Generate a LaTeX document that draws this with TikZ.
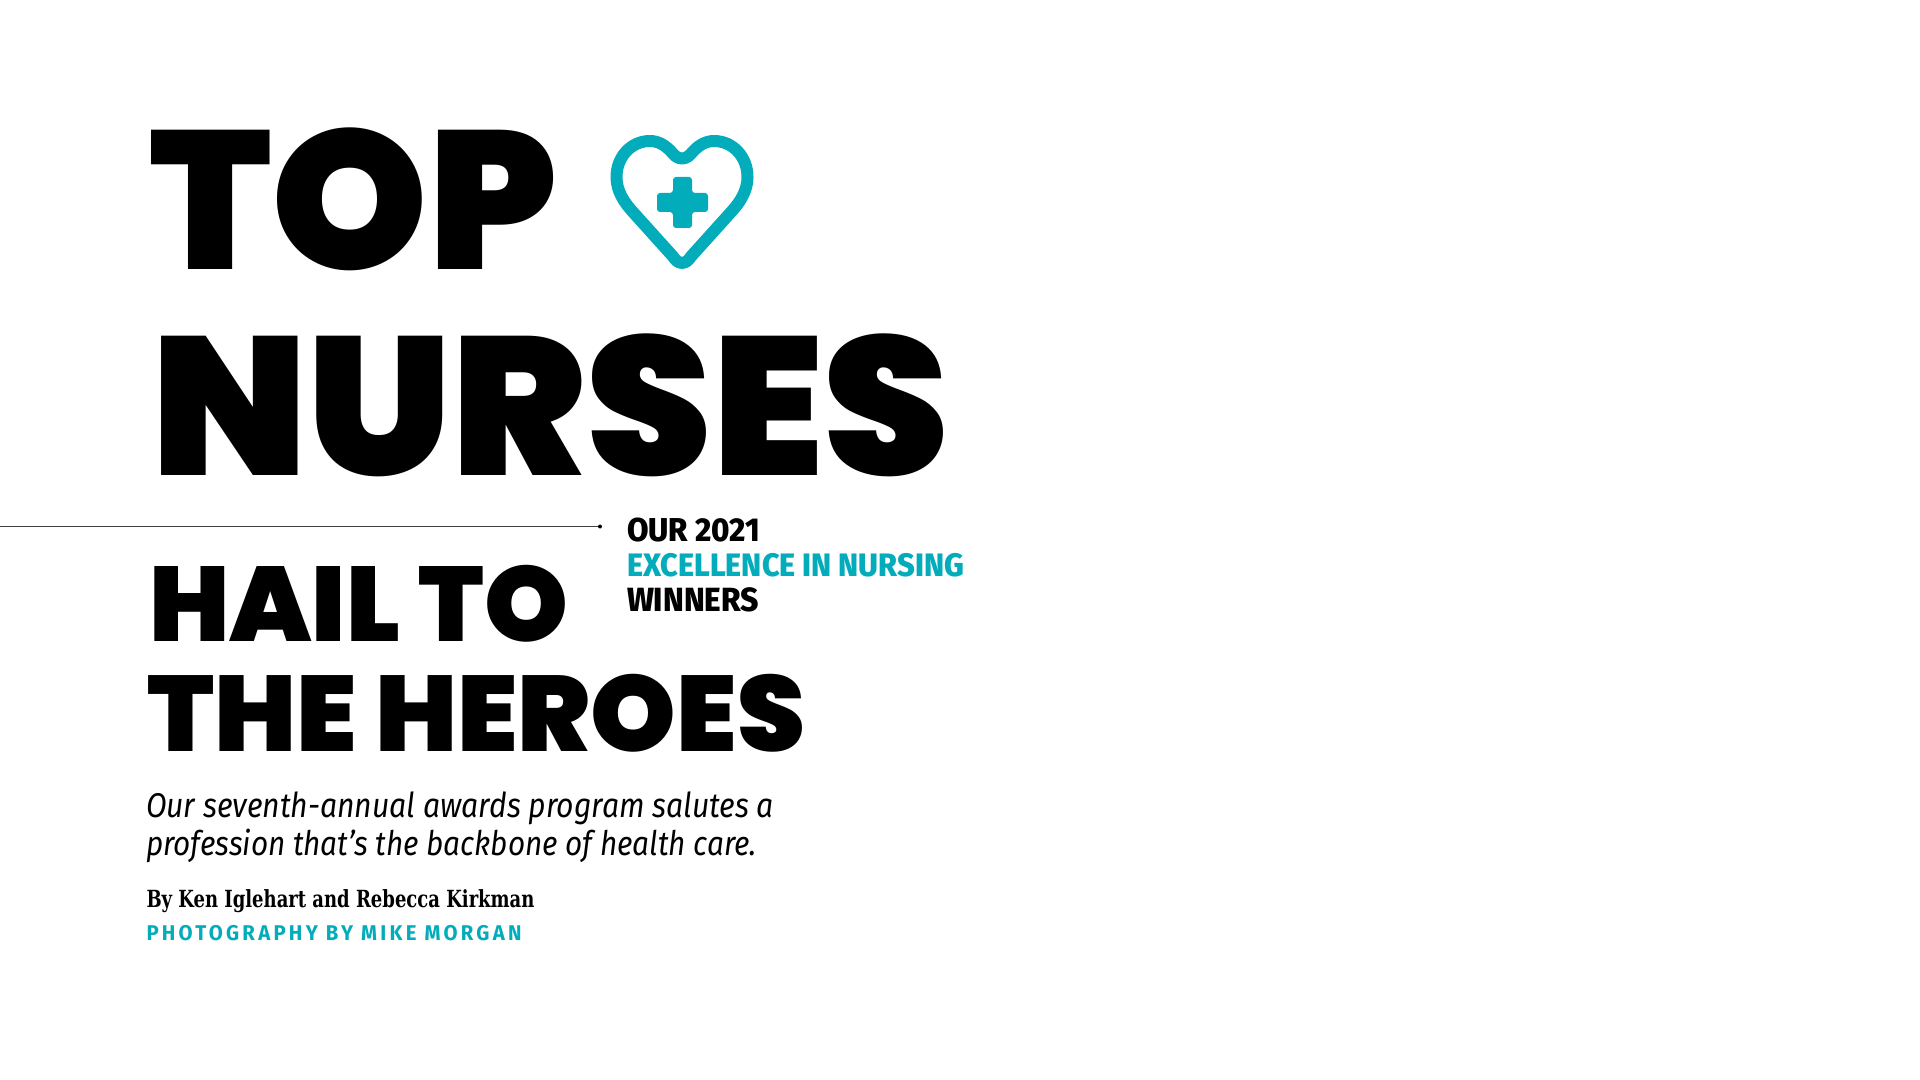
\documentclass[tikz,border=0pt]{standalone}
\usepackage{fontspec}
\usepackage{graphicx}
\newfontfamily\heavyfont{Poppins Black}
\newfontfamily\subfont{Fira Sans ExtraBold}
\newfontfamily\ledefont{Fira Sans}
\newfontfamily\byfont{DejaVu Serif Condensed}[BoldFont=* Bold]
\newfontfamily\photofont{Fira Sans}[UprightFont=* Bold,LetterSpace=16]
\definecolor{teal}{HTML}{03ACBA}
\newcommand{\fitbox}[3]{\resizebox*{#1pt}{#2pt}{#3}}
\newcommand{\widebox}[3]{\scalebox{1}[#2]{\resizebox{#1pt}{!}{#3}}}
\begin{document}
\begin{tikzpicture}[x=0.5pt,y=-0.5pt,
  every node/.style={inner sep=0pt,outer sep=0pt,anchor=south west},
  heading/.style={text=black,font=\heavyfont},
  subhead/.style={font=\subfont\fontsize{14.2pt}{16pt}\selectfont},
  lede/.style={font=\ledefont\itshape\fontsize{15pt}{18pt}\selectfont},
  byline/.style={font=\byfont\bfseries\fontsize{10pt}{12pt}\selectfont},
  photo/.style={text=teal,font=\photofont\fontsize{9.5pt}{12pt}\selectfont}]
\useasboundingbox (0,0) rectangle (1920,1080);
\fill[white] (0,0) rectangle (1920,1080);
\node[heading] (top) at (149,271) {\fitbox{204}{71.5}{TOP}};
\node[heading] (nurses) at (151,476.5) {\fitbox{399}{71.5}{NURSES}};
\node[heading] (hail) at (149,642) {\fitbox{209.5}{38.5}{HAIL TO}};
\node[heading] (heroes) at (147,752) {\fitbox{329}{39}{THE HEROES}};
\node[subhead] (our) at (627,542) {\widebox{66.5}{1.06}{OUR 2021}};
\node[subhead,text=teal] (exc) at (627,577) {\widebox{168.5}{1.06}{EXCELLENCE IN NURSING}};
\node[subhead] (win) at (627,612) {\widebox{66}{1.06}{WINNERS}};
\node[lede] (l1) at (146,825) {\widebox{314}{1.14}{Our seventh-annual awards program salutes a}};
\node[lede] (l2) at (146,863) {\widebox{305.5}{1.14}{profession that’s the backbone of health care.}};
\node[byline] (by) at (146.5,913) {\widebox{194}{1.18}{By Ken Iglehart and Rebecca Kirkman}};
\node[photo] (ph) at (146.5,941) {\widebox{187.5}{1.05}{PHOTOGRAPHY BY MIKE MORGAN}};
% rule
\coordinate (ruleA) at (0,526.5);
\coordinate (ruleB) at (600,526.5);
\draw[line width=0.6pt,black!75] (ruleA) -- (ruleB);
\fill[black] (ruleB) circle[radius=2];
% heart
\draw[teal,line width=6pt,line join=round]
 (682,158.5) .. controls (677,158.5) and (674,155) .. (671,151.5)
 .. controls (665,145) and (658,141) .. (650,141)
 .. controls (631,141) and (616.5,157) .. (616.5,177)
 .. controls (616.5,191) and (624,202) .. (632,211)
 -- (673,256.5) .. controls (678,265) and (686,265) .. (691,256.5)
 -- (732,211) .. controls (740,202) and (747.5,191) .. (747.5,177)
 .. controls (747.5,157) and (733,141) .. (714,141)
 .. controls (706,141) and (699,145) .. (693,151.5)
 .. controls (690,155) and (687,158.5) .. (682,158.5) -- cycle;
\fill[teal,rounded corners=1.5pt] (673,177) -- (692,177) -- (692,193) -- (708,193) -- (708,212) -- (692,212) -- (692,228) -- (673,228) -- (673,212) -- (657,212) -- (657,193) -- (673,193) -- cycle;
\end{tikzpicture}
\end{document}
